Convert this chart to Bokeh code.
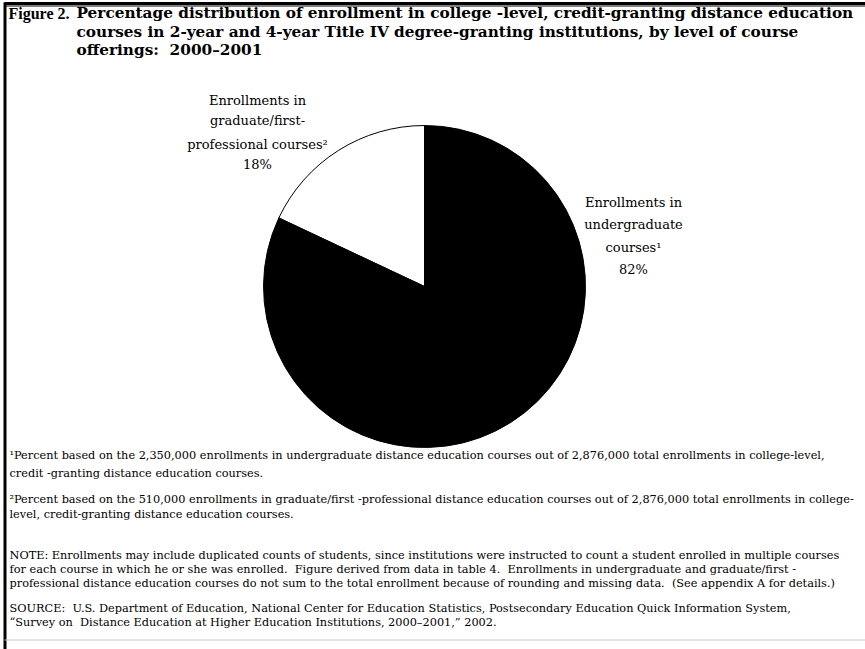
import numpy as np
from bokeh.plotting import figure
from bokeh.models import Range1d, ColumnDataSource
from bokeh.core.properties import value
from bokeh.embed import file_html
from bokeh.resources import INLINE

# ---- data ----
categories = ["Enrollments in graduate/first-professional courses",
              "Enrollments in undergraduate courses"]
percents = [18, 82]
slice_colors = ["white", "black"]

figure_tag = "Figure 2."
title_lines = [
    "Percentage distribution of enrollment in college -level, credit-granting distance education",
    "courses in 2-year and 4-year Title IV degree-granting institutions, by level of course",
    "offerings:\u00a0 2000\u20132001",
]
grad_label = ["Enrollments in", "graduate/first-", "professional courses\u00b2", "18%"]
ug_label = ["Enrollments in", "undergraduate", "courses\u00b9", "82%"]
notes = [
    "\u00b9Percent based on the 2,350,000 enrollments in undergraduate distance education courses out of 2,876,000 total enrollments in college-level,",
    "credit -granting distance education courses.",
    "\u00b2Percent based on the 510,000 enrollments in graduate/first -professional distance education courses out of 2,876,000 total enrollments in college-",
    "level, credit-granting distance education courses.",
    "NOTE: Enrollments may include duplicated counts of students, since institutions were instructed to count a student enrolled in multiple courses",
    "for each course in which he or she was enrolled.\u00a0 Figure derived from data in table 4.\u00a0 Enrollments in undergraduate and graduate/first -",
    "professional distance education courses do not sum to the total enrollment because of rounding and missing data.\u00a0 (See appendix A for details.)",
    "SOURCE:\u00a0 U.S. Department of Education, National Center for Education Statistics, Postsecondary Education Quick Information System,",
    "\u201cSurvey on\u00a0 Distance Education at Higher Education Institutions, 2000\u20132001,\u201d 2002.",
]

W, H = 865, 649
def Y(sy):  # screen y (from top) -> data y
    return H - sy

p = figure(width=W, height=H, output_backend="svg", toolbar_location=None,
           x_range=Range1d(0, W), y_range=Range1d(0, H), min_border=0)
p.axis.visible = False
p.grid.visible = False
p.outline_line_color = None
p.background_fill_color = "white"
p.border_fill_color = "white"

# frame lines
p.line([4, W], [Y(3), Y(3)], line_color="black", line_width=3)
p.line([4, W], [Y(5.5), Y(5.5)], line_color="black", line_width=1)
p.line([4.5, 4.5], [Y(2), Y(H)], line_color="black", line_width=3)
p.line([4, W], [Y(639.5), Y(639.5)], line_color="#c8c8c8", line_width=1)

# title
p.text([8], [Y(12.5)], text=[figure_tag], text_font=value("Liberation Serif"),
       text_font_style="bold", text_font_size="16px", text_baseline="middle",
       text_align="left", text_color="black")
ty = [12.5, 31, 49.5]
p.text([76] * 3, [Y(v) for v in ty], text=title_lines, text_font=value("DejaVu Serif"),
       text_font_style="bold", text_font_size="15.3px", text_baseline="middle",
       text_align="left", text_color="black")

serif = value("DejaVu Serif")

# pie
cx, cy, r = 424, Y(286), 161
frac = np.array(percents, dtype=float) / sum(percents)
start = np.pi / 2 + np.concatenate([[0], np.cumsum(frac)[:-1]]) * 2 * np.pi
end = np.pi / 2 + np.cumsum(frac) * 2 * np.pi
src = ColumnDataSource(dict(start=start, end=end, color=slice_colors, cat=categories))
p.wedge(x=cx, y=cy, radius=r, radius_units="screen", start_angle="start", end_angle="end",
        fill_color="color", line_color="black", line_width=1, source=src)

# slice labels
gy = [99.5, 120, 143.5, 164]
p.text([257] * 4, [Y(v) for v in gy], text=grad_label, text_font=serif,
       text_font_size="13px", text_baseline="middle", text_align="center", text_color="black")
uy = [202, 224, 246.5, 269]
p.text([633] * 4, [Y(v) for v in uy], text=ug_label, text_font=serif,
       text_font_size="13px", text_baseline="middle", text_align="center", text_color="black")

# notes
ny = [455, 473, 499, 514, 555, 569, 583, 608, 622]
p.text([9] * len(notes), [Y(v) for v in ny], text=notes, text_font=serif,
       text_font_size="11.3px", text_baseline="middle", text_align="left", text_color="black")

open("out.html", "w").write(file_html(p, INLINE))
